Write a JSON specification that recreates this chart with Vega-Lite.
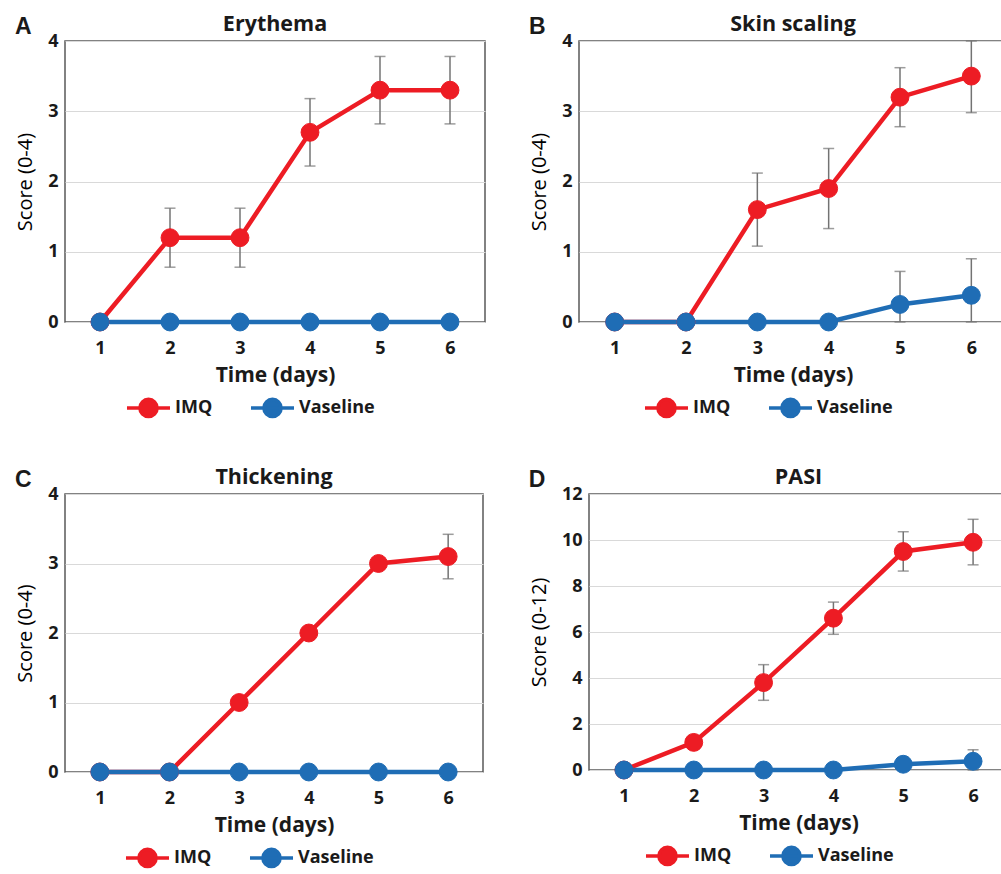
{
  "$schema": "https://vega.github.io/schema/vega-lite/v6.json",
  "padding": {"left": 14, "top": 12, "right": 0, "bottom": 0},
  "background": "white",
  "datasets": {
    "erythema": [
      {"day": 1, "group": "IMQ", "score": 0},
      {"day": 2, "group": "IMQ", "score": 1.2, "lo": 0.78, "hi": 1.62},
      {"day": 3, "group": "IMQ", "score": 1.2, "lo": 0.78, "hi": 1.62},
      {"day": 4, "group": "IMQ", "score": 2.7, "lo": 2.22, "hi": 3.18},
      {"day": 5, "group": "IMQ", "score": 3.3, "lo": 2.82, "hi": 3.78},
      {"day": 6, "group": "IMQ", "score": 3.3, "lo": 2.82, "hi": 3.78},
      {"day": 1, "group": "Vaseline", "score": 0},
      {"day": 2, "group": "Vaseline", "score": 0},
      {"day": 3, "group": "Vaseline", "score": 0},
      {"day": 4, "group": "Vaseline", "score": 0},
      {"day": 5, "group": "Vaseline", "score": 0},
      {"day": 6, "group": "Vaseline", "score": 0}
    ],
    "scaling": [
      {"day": 1, "group": "IMQ", "score": 0},
      {"day": 2, "group": "IMQ", "score": 0},
      {"day": 3, "group": "IMQ", "score": 1.6, "lo": 1.08, "hi": 2.12},
      {"day": 4, "group": "IMQ", "score": 1.9, "lo": 1.33, "hi": 2.47},
      {"day": 5, "group": "IMQ", "score": 3.2, "lo": 2.78, "hi": 3.62},
      {"day": 6, "group": "IMQ", "score": 3.5, "lo": 2.98, "hi": 4.0},
      {"day": 1, "group": "Vaseline", "score": 0},
      {"day": 2, "group": "Vaseline", "score": 0},
      {"day": 3, "group": "Vaseline", "score": 0},
      {"day": 4, "group": "Vaseline", "score": 0},
      {"day": 5, "group": "Vaseline", "score": 0.25, "lo": 0, "hi": 0.72},
      {"day": 6, "group": "Vaseline", "score": 0.38, "lo": 0, "hi": 0.9}
    ],
    "thickening": [
      {"day": 1, "group": "IMQ", "score": 0},
      {"day": 2, "group": "IMQ", "score": 0},
      {"day": 3, "group": "IMQ", "score": 1.0},
      {"day": 4, "group": "IMQ", "score": 2.0},
      {"day": 5, "group": "IMQ", "score": 3.0},
      {"day": 6, "group": "IMQ", "score": 3.1, "lo": 2.78, "hi": 3.42},
      {"day": 1, "group": "Vaseline", "score": 0},
      {"day": 2, "group": "Vaseline", "score": 0},
      {"day": 3, "group": "Vaseline", "score": 0},
      {"day": 4, "group": "Vaseline", "score": 0},
      {"day": 5, "group": "Vaseline", "score": 0},
      {"day": 6, "group": "Vaseline", "score": 0}
    ],
    "pasi": [
      {"day": 1, "group": "IMQ", "score": 0},
      {"day": 2, "group": "IMQ", "score": 1.2, "lo": 0.9, "hi": 1.5},
      {"day": 3, "group": "IMQ", "score": 3.8, "lo": 3.03, "hi": 4.58},
      {"day": 4, "group": "IMQ", "score": 6.6, "lo": 5.9, "hi": 7.3},
      {"day": 5, "group": "IMQ", "score": 9.5, "lo": 8.65, "hi": 10.36},
      {"day": 6, "group": "IMQ", "score": 9.9, "lo": 8.92, "hi": 10.9},
      {"day": 1, "group": "Vaseline", "score": 0},
      {"day": 2, "group": "Vaseline", "score": 0},
      {"day": 3, "group": "Vaseline", "score": 0},
      {"day": 4, "group": "Vaseline", "score": 0},
      {"day": 5, "group": "Vaseline", "score": 0.25, "lo": 0, "hi": 0.55},
      {"day": 6, "group": "Vaseline", "score": 0.38, "lo": 0, "hi": 0.88}
    ]
  },
  "columns": 2,
  "align": "none",
  "spacing": {"column": 42, "row": 41},
  "resolve": {"scale": {"fill": "independent", "stroke": "independent"}, "legend": {"fill": "independent", "stroke": "independent"}},
  "concat": [
    {
      "title": {"text": "A", "anchor": "start", "frame": "bounds", "font": "Liberation Sans", "fontSize": 23, "fontWeight": "bold", "dy": 23},
      "vconcat": [
        {
          "title": "Erythema",
          "width": 420, "height": 281,
          "data": {"name": "erythema"},
          "encoding": {"x": {"field": "day", "type": "ordinal", "scale": {"type": "point", "padding": 0.5}, "axis": {"title": "Time (days)"}}},
          "layer": [
            {"transform": [{"filter": "isValid(datum.hi)"}],
             "mark": {"type": "errorbar", "ticks": {"size": 11, "color": "#737373", "thickness": 1.5}, "rule": {"color": "#737373", "strokeWidth": 1.5}},
             "encoding": {"y": {"field": "lo", "type": "quantitative", "scale": {"domain": [0, 4], "nice": false}, "axis": {"title": "Score (0-4)", "values": [0, 1, 2, 3, 4], "format": "d"}}, "y2": {"field": "hi"}}},
            {"mark": {"type": "line", "strokeWidth": 4.5},
             "encoding": {"y": {"field": "score", "type": "quantitative", "axis": {"title": "Score (0-4)", "format": "d"}},
                          "stroke": {"field": "group", "type": "nominal", "scale": {"domain": ["IMQ", "Vaseline"], "range": ["#ED1C24", "#1F6DB5"]}, "legend": {"title": null}}}},
            {"mark": {"type": "point", "filled": true, "size": 320, "opacity": 1, "strokeWidth": 1},
             "encoding": {"y": {"field": "score", "type": "quantitative", "axis": {"title": "Score (0-4)", "format": "d"}},
                          "fill": {"field": "group", "type": "nominal", "scale": {"domain": ["IMQ", "Vaseline"], "range": ["#ED1C24", "#1F6DB5"]}, "legend": {"title": null}},
                          "stroke": {"field": "group", "type": "nominal", "legend": {"title": null}}}}
          ]
        }
      ]
    },
    {
      "title": {"text": "B", "anchor": "start", "frame": "bounds", "font": "Liberation Sans", "fontSize": 23, "fontWeight": "bold", "dy": 23},
      "vconcat": [
        {
          "title": "Skin scaling",
          "width": 428, "height": 281,
          "data": {"name": "scaling"},
          "encoding": {"x": {"field": "day", "type": "ordinal", "scale": {"type": "point", "padding": 0.5}, "axis": {"title": "Time (days)"}}},
          "layer": [
            {"transform": [{"filter": "isValid(datum.hi)"}],
             "mark": {"type": "errorbar", "ticks": {"size": 11, "color": "#737373", "thickness": 1.5}, "rule": {"color": "#737373", "strokeWidth": 1.5}},
             "encoding": {"y": {"field": "lo", "type": "quantitative", "scale": {"domain": [0, 4], "nice": false}, "axis": {"title": "Score (0-4)", "values": [0, 1, 2, 3, 4], "format": "d"}}, "y2": {"field": "hi"}}},
            {"mark": {"type": "line", "strokeWidth": 4.5},
             "encoding": {"y": {"field": "score", "type": "quantitative", "axis": {"title": "Score (0-4)", "format": "d"}},
                          "stroke": {"field": "group", "type": "nominal", "scale": {"domain": ["IMQ", "Vaseline"], "range": ["#ED1C24", "#1F6DB5"]}, "legend": {"title": null}}}},
            {"mark": {"type": "point", "filled": true, "size": 320, "opacity": 1, "strokeWidth": 1},
             "encoding": {"y": {"field": "score", "type": "quantitative", "axis": {"title": "Score (0-4)", "format": "d"}},
                          "fill": {"field": "group", "type": "nominal", "scale": {"domain": ["IMQ", "Vaseline"], "range": ["#ED1C24", "#1F6DB5"]}, "legend": {"title": null}},
                          "stroke": {"field": "group", "type": "nominal", "legend": {"title": null}}}}
          ]
        }
      ]
    },
    {
      "title": {"text": "C", "anchor": "start", "frame": "bounds", "font": "Liberation Sans", "fontSize": 23, "fontWeight": "bold", "dy": 23},
      "vconcat": [
        {
          "title": "Thickening",
          "width": 418, "height": 278,
          "data": {"name": "thickening"},
          "encoding": {"x": {"field": "day", "type": "ordinal", "scale": {"type": "point", "padding": 0.5}, "axis": {"title": "Time (days)"}}},
          "layer": [
            {"transform": [{"filter": "isValid(datum.hi)"}],
             "mark": {"type": "errorbar", "ticks": {"size": 11, "color": "#737373", "thickness": 1.5}, "rule": {"color": "#737373", "strokeWidth": 1.5}},
             "encoding": {"y": {"field": "lo", "type": "quantitative", "scale": {"domain": [0, 4], "nice": false}, "axis": {"title": "Score (0-4)", "values": [0, 1, 2, 3, 4], "format": "d"}}, "y2": {"field": "hi"}}},
            {"mark": {"type": "line", "strokeWidth": 4.5},
             "encoding": {"y": {"field": "score", "type": "quantitative", "axis": {"title": "Score (0-4)", "format": "d"}},
                          "stroke": {"field": "group", "type": "nominal", "scale": {"domain": ["IMQ", "Vaseline"], "range": ["#ED1C24", "#1F6DB5"]}, "legend": {"title": null}}}},
            {"mark": {"type": "point", "filled": true, "size": 320, "opacity": 1, "strokeWidth": 1},
             "encoding": {"y": {"field": "score", "type": "quantitative", "axis": {"title": "Score (0-4)", "format": "d"}},
                          "fill": {"field": "group", "type": "nominal", "scale": {"domain": ["IMQ", "Vaseline"], "range": ["#ED1C24", "#1F6DB5"]}, "legend": {"title": null}},
                          "stroke": {"field": "group", "type": "nominal", "legend": {"title": null}}}}
          ]
        }
      ]
    },
    {
      "title": {"text": "D", "anchor": "start", "frame": "bounds", "font": "Liberation Sans", "fontSize": 23, "fontWeight": "bold", "dy": 23},
      "vconcat": [
        {
          "title": "PASI",
          "width": 419, "height": 276,
          "data": {"name": "pasi"},
          "encoding": {"x": {"field": "day", "type": "ordinal", "scale": {"type": "point", "padding": 0.5}, "axis": {"title": "Time (days)"}}},
          "layer": [
            {"transform": [{"filter": "isValid(datum.hi)"}],
             "mark": {"type": "errorbar", "ticks": {"size": 11, "color": "#737373", "thickness": 1.5}, "rule": {"color": "#737373", "strokeWidth": 1.5}},
             "encoding": {"y": {"field": "lo", "type": "quantitative", "scale": {"domain": [0, 12], "nice": false}, "axis": {"title": "Score (0-12)", "values": [0, 2, 4, 6, 8, 10, 12], "format": "d"}}, "y2": {"field": "hi"}}},
            {"mark": {"type": "line", "strokeWidth": 4.5},
             "encoding": {"y": {"field": "score", "type": "quantitative", "axis": {"title": "Score (0-12)", "format": "d"}},
                          "stroke": {"field": "group", "type": "nominal", "scale": {"domain": ["IMQ", "Vaseline"], "range": ["#ED1C24", "#1F6DB5"]}, "legend": {"title": null}}}},
            {"mark": {"type": "point", "filled": true, "size": 320, "opacity": 1, "strokeWidth": 1},
             "encoding": {"y": {"field": "score", "type": "quantitative", "axis": {"title": "Score (0-12)", "format": "d"}},
                          "fill": {"field": "group", "type": "nominal", "scale": {"domain": ["IMQ", "Vaseline"], "range": ["#ED1C24", "#1F6DB5"]}, "legend": {"title": null}},
                          "stroke": {"field": "group", "type": "nominal", "legend": {"title": null}}}}
          ]
        }
      ]
    }
  ],
  "config": {
    "font": "Open Sans",
    "view": {"stroke": "#595959", "strokeWidth": 1.5},
    "axis": {"labelFont": "Open Sans", "labelFontWeight": "bold", "labelFontSize": 18, "labelColor": "#1a1a1a",
             "titleFont": "Open Sans", "titleFontWeight": "bold", "titleFontSize": 21, "titleColor": "#1a1a1a",
             "ticks": false, "domain": false, "gridColor": "#d9d9d9", "gridWidth": 1.2},
    "axisX": {"grid": false, "labelAngle": 0, "labelPadding": 17, "titlePadding": 7},
    "axisY": {"labelPadding": 7, "titlePadding": 12, "titleFontWeight": "normal", "titleFontSize": 20, "titleColor": "#000000"},
    "title": {"font": "Open Sans", "fontSize": 21.5, "fontWeight": "bold", "color": "#1a1a1a", "offset": -3},
    "legend": {"orient": "bottom", "direction": "horizontal",
               "layout": {"bottom": {"anchor": "middle"}},
               "symbolType": "M-1,0L1,0M-0.4,0A0.4,0.4,0,1,0,0.4,0A0.4,0.4,0,1,0,-0.4,0Z",
               "symbolSize": 1850, "symbolStrokeWidth": 3.5, "symbolOpacity": 1,
               "labelFont": "Open Sans", "labelFontSize": 18, "labelFontWeight": "bold", "labelColor": "#1a1a1a",
               "labelOffset": 3, "columnPadding": 30, "offset": -2, "padding": 0}
  }
}
